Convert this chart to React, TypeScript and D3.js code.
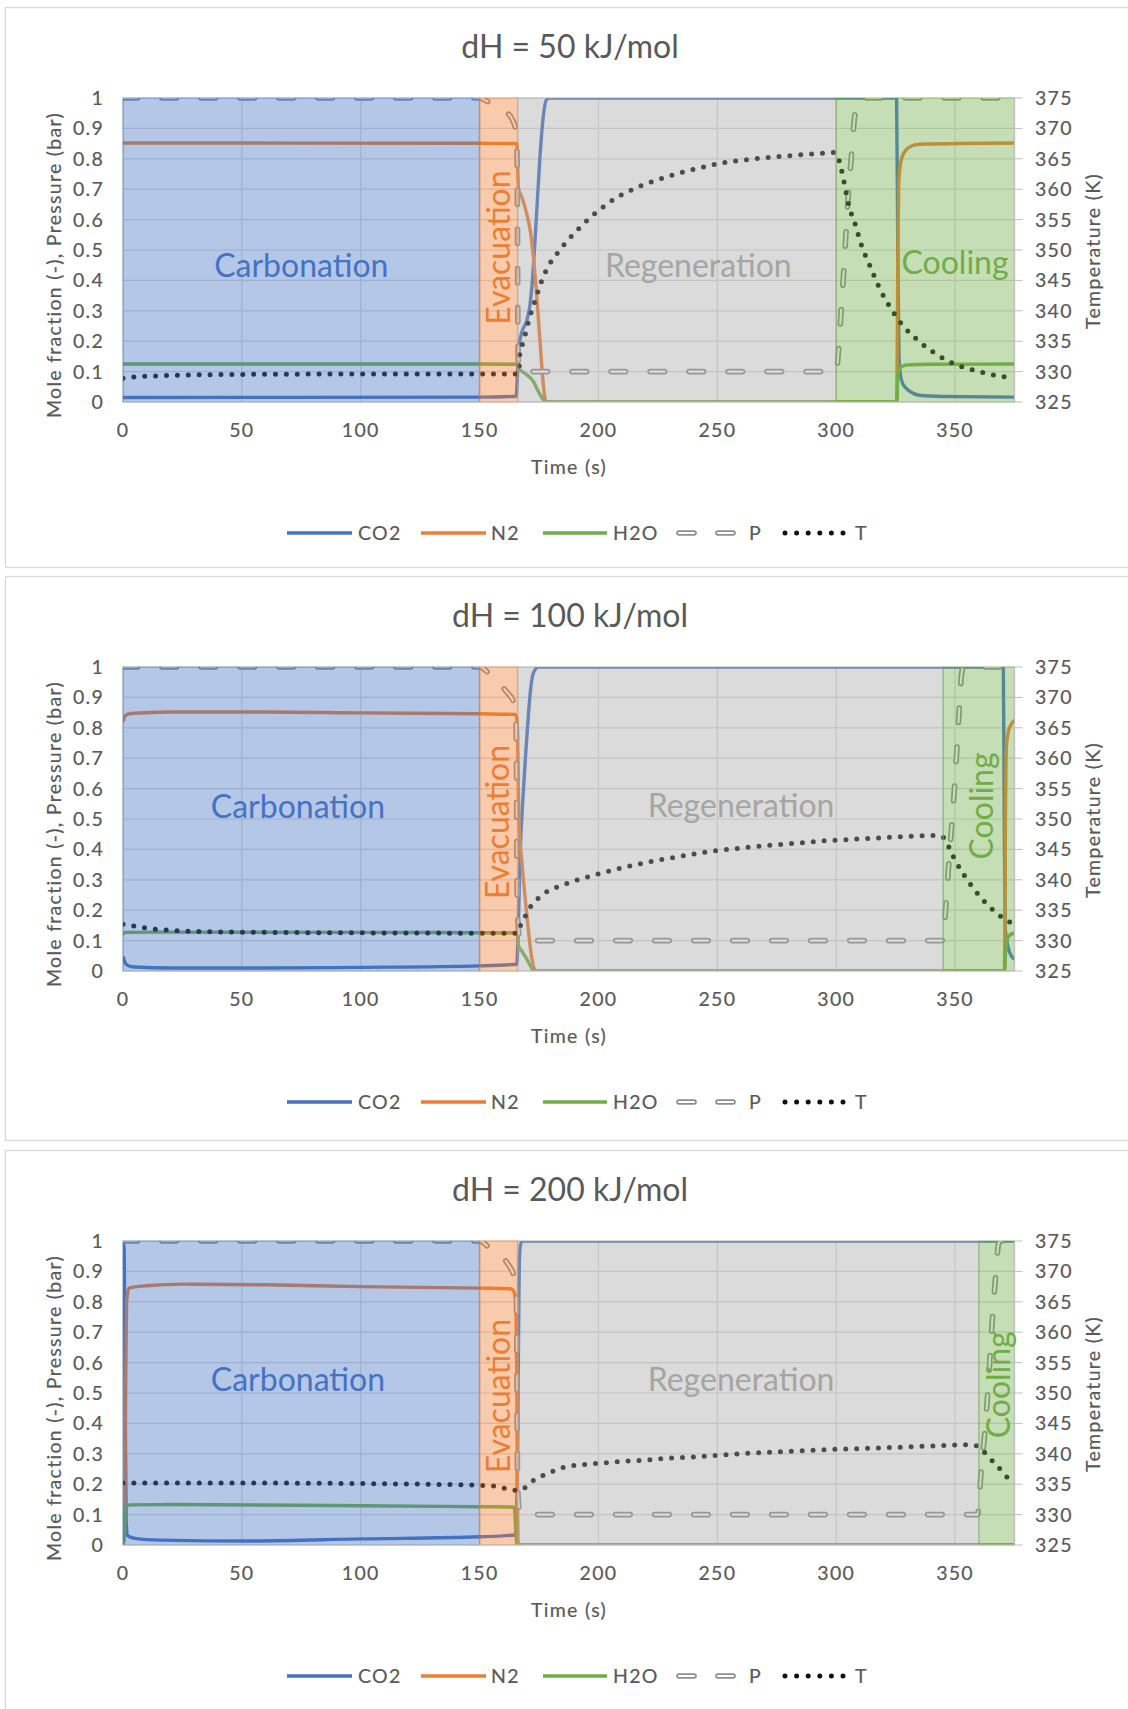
import React from "react";
import * as d3 from "d3";

type Pt = [number, number];

// ---- axis ticks and labels ----
const timeTicks = [0, 50, 100, 150, 200, 250, 300, 350];
const fractionTicks = [0, 0.1, 0.2, 0.3, 0.4, 0.5, 0.6, 0.7, 0.8, 0.9, 1];
const tempTicks = [325, 330, 335, 340, 345, 350, 355, 360, 365, 370, 375];
const chartTitles = ["dH = 50 kJ/mol", "dH = 100 kJ/mol", "dH = 200 kJ/mol"];
const phaseNames = ["Carbonation", "Evacuation", "Regeneration", "Cooling"];
const seriesNames = ["CO2", "N2", "H2O", "P", "T"];

// phase boundaries (s)
const phaseBounds50 = [0, 150, 166, 300, 375];
const phaseBounds100 = [0, 150, 166, 345, 375];
const phaseBounds200 = [0, 150, 166, 360, 375];

// ---- dH = 50 kJ/mol ----
const co2_50: Pt[] = [[0,0.015],[150,0.016],[165.4,0.019],[166,0.1],[166.7,0.19],[168,0.235],[169.8,0.267],[171.2,0.32],[172.3,0.41],[173.3,0.53],[174.3,0.664],[175.4,0.807],[176.8,0.94],[178.2,0.995],[179.6,1],[325.4,1],[325.9,0.5],[326.4,0.15],[327,0.09],[328,0.06],[331,0.035],[335,0.022],[345,0.018],[375,0.016]];
const n2_50: Pt[] = [[0,0.852],[150,0.851],[165.8,0.85],[166.1,0.76],[166.4,0.7],[167.7,0.675],[169.8,0.62],[171.5,0.554],[172.9,0.454],[174.3,0.322],[175.7,0.167],[177.1,0.035],[178,0],[325.5,0],[325.9,0.45],[326.3,0.72],[327.2,0.79],[328.5,0.82],[331,0.84],[335,0.848],[375,0.852]];
const h2o_50: Pt[] = [[0,0.125],[150,0.125],[166,0.124],[166.4,0.112],[168,0.1],[169.8,0.09],[172.6,0.068],[174.7,0.035],[176.8,0.008],[178.2,0],[325.5,0],[325.9,0.08],[326.4,0.105],[327.5,0.117],[330,0.122],[340,0.124],[375,0.125]];
const p_50: Pt[] = [[0,1],[150,1],[153,0.99],[157,0.975],[161,0.955],[164,0.925],[165.3,0.89],[165.8,0.8],[166.2,0.15],[166.8,0.1],[300,0.1],[301,0.17],[302,0.29],[303,0.41],[304,0.54],[305,0.67],[306.3,0.8],[307.5,0.92],[309,0.99],[310,1],[375,1]];
const t_50: Pt[] = [[0,328.9],[4.5,329.1],[14,329.3],[37.6,329.5],[100,329.6],[165.5,329.6],[166.5,329.8],[166.9,332.8],[168.1,334.6],[169.4,336.4],[170.5,338.2],[171.9,340],[173.3,341.6],[174.7,343.3],[176.2,345],[178.2,346.8],[180.6,348.4],[183.4,349.8],[186.4,351.3],[189.5,352.6],[192.7,353.9],[196.2,355.2],[199.7,356.4],[203.5,357.5],[207.7,358.7],[211.6,359.4],[215.7,360.2],[224.6,361.5],[233.5,362.6],[242.5,363.5],[251.6,364.3],[266,365],[280,365.5],[294,365.9],[299,366.05],[301,365],[303.2,361.4],[305,357.8],[308,354.2],[310.6,350.8],[314.2,347.4],[318,343.9],[322.5,340.7],[327.8,337.7],[334.5,335.1],[342,332.9],[350,331.2],[359,330.1],[368.3,329.3],[375,328.9]];

// ---- dH = 100 kJ/mol ----
const co2_100: Pt[] = [[0,0.048],[0.7,0.03],[2,0.018],[5,0.013],[20,0.01],[60,0.01],[100,0.012],[150,0.017],[165.6,0.022],[166.3,0.15],[167,0.37],[168.4,0.59],[169.6,0.74],[170.6,0.85],[171.5,0.93],[172.6,0.98],[174.8,1],[370.3,1],[370.7,0.5],[371.1,0.14],[372,0.09],[373,0.06],[375,0.038]];
const n2_100: Pt[] = [[0,0.82],[0.7,0.838],[3,0.847],[20,0.852],[60,0.852],[100,0.849],[150,0.846],[164.8,0.844],[165.6,0.835],[166,0.78],[166.3,0.6],[166.7,0.47],[167.7,0.367],[169.8,0.19],[172,0.04],[173.7,0],[370.8,0],[371.2,0.5],[371.6,0.74],[372.5,0.79],[373.5,0.81],[375,0.826]];
const h2o_100: Pt[] = [[0,0.12],[1,0.127],[20,0.128],[100,0.127],[150,0.126],[166,0.125],[166.3,0.085],[168,0.063],[169.8,0.04],[171.5,0.015],[172.8,0],[370.8,0],[371.3,0.07],[371.8,0.1],[373,0.118],[375,0.125]];
const p_100: Pt[] = [[0,1],[150,1],[155,0.97],[160.7,0.925],[165,0.87],[165.4,0.8],[165.8,0.25],[166.3,0.14],[167,0.1],[345,0.1],[346.2,0.225],[347.3,0.345],[348.5,0.47],[349.7,0.597],[350.8,0.733],[351.8,0.864],[352.7,0.975],[353.5,1],[375,1]];
const t_100: Pt[] = [[0,332.7],[4.6,332.4],[9,332.1],[19,331.7],[33,331.5],[61.7,331.35],[120,331.25],[166,331.2],[167.3,332.6],[169.5,334.2],[171.6,335.7],[175.1,337.1],[178.9,338.2],[183.3,338.9],[187.6,339.5],[192.1,340.1],[196.6,340.6],[201.2,341.1],[210.3,342],[219.6,342.8],[229,343.5],[238.2,344.1],[247.5,344.7],[257,345.1],[266.5,345.5],[276,345.8],[285.4,346.1],[294.8,346.4],[304.2,346.6],[313.7,346.8],[323,347],[332.6,347.2],[342,347.3],[345.7,346.8],[347.7,345.1],[349.7,343.5],[352.1,341.8],[354.6,340.3],[357.3,338.8],[360.4,337.3],[363.4,336],[367,334.7],[370.6,333.6],[374.7,332.7]];

// ---- dH = 200 kJ/mol ----
const co2_200: Pt[] = [[0,1],[0.5,0.97],[0.9,0.5],[1.3,0.08],[2,0.03],[5,0.022],[16,0.016],[53,0.013],[100,0.02],[150,0.027],[164.8,0.033],[165.4,0.06],[166,0.3],[166.4,0.7],[166.8,0.95],[167.5,0.995],[168.5,1],[375,1]];
const n2_200: Pt[] = [[0,0],[0.7,0.05],[1.1,0.5],[1.5,0.8],[2.5,0.845],[10,0.853],[25,0.858],[60,0.856],[100,0.85],[150,0.845],[163,0.843],[164.3,0.835],[165.3,0.8],[165.7,0.5],[166,0.1],[166.3,0],[375,0]];
const h2o_200: Pt[] = [[0,0],[0.6,0.03],[0.9,0.1],[1.5,0.128],[3,0.132],[20,0.133],[100,0.129],[150,0.126],[164.3,0.125],[164.8,0.11],[165.2,0.05],[165.6,0.005],[166,0],[375,0]];
const p_200: Pt[] = [[0,1],[150,1],[155,0.97],[161.4,0.93],[165,0.87],[165.5,0.8],[166,0.2],[166.7,0.115],[167.5,0.1],[359.5,0.1],[361,0.25],[362.5,0.37],[364,0.53],[365.5,0.72],[367,0.88],[368.3,0.99],[369,1],[375,1]];
const t_200: Pt[] = [[0,335.2],[50,335.2],[100,335.1],[141.8,334.9],[151.3,334.8],[156.2,334.7],[161,334.3],[165,334],[167.4,334],[171,335.2],[175,336.1],[179.4,336.9],[183.7,337.6],[188.3,338],[193,338.2],[202.3,338.5],[211.7,338.8],[221,339],[230.5,339.3],[240.2,339.5],[249.5,339.75],[259,340],[268.4,340.2],[277.9,340.35],[287.4,340.55],[296.8,340.7],[306.3,340.8],[315.7,340.95],[325.1,341.05],[334.6,341.2],[344,341.35],[353.6,341.5],[358.4,341.4],[361.4,340.6],[364.5,339.3],[368,337.9],[371,336.5],[374.7,335.3]];

// ---- layout ----
const W = 1128;
const H = 1709;
const FONT = "Lato, 'Open Sans', 'DejaVu Sans', sans-serif";
const TEXT = "#595959";
const GRID = "#D9D9D9";
const AXIS = "#BFBFBF";
const PLOT_L = 123;
const PLOT_R = 1014.5;
const PLOT_OFF = 91;
const PLOT_H = 304;
const PANEL_TOPS = [7, 576, 1150];
const PANEL_HS = [560, 564, 566];
const SMALL = 19.5;
const LS = "1.3px";

const seriesColor: Record<string, string> = {
  CO2: "#4472C4",
  N2: "#ED7D31",
  H2O: "#70AD47",
  P: "#8E8E8E",
  T: "#111111",
};
const phaseColor = ["#4472C4", "#ED7D31", "#A5A5A5", "#70AD47"];

// label anchors in data units: [time, fraction, vertical?]
const phaseLabelAnchors: [number, number, boolean][][] = [
  [[75, 0.45, false], [162.8, 0.508, true], [242, 0.45, false], [350, 0.46, false]],
  [[73.6, 0.54, false], [162.4, 0.49, true], [260, 0.544, false], [366, 0.543, true]],
  [[73.6, 0.543, false], [162.6, 0.49, true], [260, 0.546, false], [373, 0.527, true]],
];

const panels = [
  { title: chartTitles[0], bounds: phaseBounds50, co2: co2_50, n2: n2_50, h2o: h2o_50, p: p_50, t: t_50 },
  { title: chartTitles[1], bounds: phaseBounds100, co2: co2_100, n2: n2_100, h2o: h2o_100, p: p_100, t: t_100 },
  { title: chartTitles[2], bounds: phaseBounds200, co2: co2_200, n2: n2_200, h2o: h2o_200, p: p_200, t: t_200 },
];

const P_DASH = "14.5 24.5";
const T_DASH = "0 10.9";
const LINE_W = 3.4;

function Panel({ idx }: { idx: number }) {
  const cfg = panels[idx];
  const top = PANEL_TOPS[idx];
  const pTop = top + PLOT_OFF;
  const pBot = pTop + PLOT_H;

  const x = d3.scaleLinear().domain([0, 375]).range([PLOT_L, PLOT_R]);
  const y = d3.scaleLinear().domain([0, 1]).range([pBot, pTop]);
  const yT = d3.scaleLinear().domain([325, 375]).range([pBot, pTop]);

  const line = d3.line<Pt>().x((d) => x(d[0])).y((d) => y(d[1])).curve(d3.curveMonotoneX);
  const lineT = d3.line<Pt>().x((d) => x(d[0])).y((d) => yT(d[1])).curve(d3.curveMonotoneX);

  const clipId = `plot-clip-${idx}`;
  const pPath = line(cfg.p) || "";
  const legendY = top + 526;

  const smallText = {
    fontFamily: FONT,
    fontSize: SMALL,
    fill: TEXT,
    letterSpacing: LS,
    stroke: TEXT,
    strokeWidth: 0.2,
  } as React.CSSProperties;

  return (
    <g>
      <defs>
        <clipPath id={clipId}>
          <rect x={PLOT_L} y={pTop} width={PLOT_R - PLOT_L} height={PLOT_H} />
        </clipPath>
      </defs>

      {/* chart frame */}
      <rect x={5.5} y={top + 0.5} width={1140} height={PANEL_HS[idx]} fill="#fff" stroke="#D9D9D9" strokeWidth={1.3} />

      {/* gridlines */}
      {fractionTicks.slice(1).map((v) => (
        <line key={"h" + v} x1={PLOT_L} x2={PLOT_R} y1={y(v)} y2={y(v)} stroke={GRID} strokeWidth={1.2} />
      ))}
      {timeTicks.map((t) => (
        <line key={"v" + t} x1={x(t)} x2={x(t)} y1={pTop} y2={pBot} stroke={GRID} strokeWidth={1.2} />
      ))}

      {/* series */}
      <g clipPath={`url(#${clipId})`} fill="none">
        <path d={line(cfg.co2) || ""} stroke={seriesColor.CO2} strokeWidth={LINE_W} strokeLinejoin="round" />
        <path d={line(cfg.n2) || ""} stroke={seriesColor.N2} strokeWidth={LINE_W} strokeLinejoin="round" />
        <path d={line(cfg.h2o) || ""} stroke={seriesColor.H2O} strokeWidth={LINE_W} strokeLinejoin="round" />
        <path d={pPath} stroke={seriesColor.P} strokeWidth={5.6} strokeDasharray={P_DASH} strokeLinecap="round" />
        <path d={pPath} stroke="#fff" strokeWidth={2.2} strokeDasharray={P_DASH} strokeLinecap="round" />
        <path d={lineT(cfg.t) || ""} stroke={seriesColor.T} strokeWidth={5} strokeDasharray={T_DASH} strokeLinecap="round" />
      </g>

      {/* process phases, translucent over the curves */}
      {phaseNames.map((name, i) => (
        <rect
          key={name}
          x={x(cfg.bounds[i])}
          y={pTop}
          width={x(cfg.bounds[i + 1]) - x(cfg.bounds[i])}
          height={PLOT_H}
          fill={phaseColor[i]}
          fillOpacity={0.4}
          stroke={phaseColor[i]}
          strokeOpacity={0.4}
          strokeWidth={1.5}
        />
      ))}

      {/* axes */}
      <line x1={PLOT_L} x2={PLOT_R} y1={pBot} y2={pBot} stroke={AXIS} strokeWidth={1} />
      <line x1={PLOT_R} x2={PLOT_R} y1={pTop} y2={pBot} stroke={AXIS} strokeWidth={1} />
      {tempTicks.map((v) => (
        <line key={"rt" + v} x1={PLOT_R} x2={PLOT_R + 8} y1={yT(v)} y2={yT(v)} stroke={AXIS} strokeWidth={1} />
      ))}

      {/* phase labels */}
      {phaseNames.map((name, i) => {
        const [lt, lv, vertical] = phaseLabelAnchors[idx][i];
        const px = x(lt);
        const py = y(lv);
        const style = { fontFamily: FONT, fontSize: 32, fill: phaseColor[i] } as React.CSSProperties;
        return vertical ? (
          <text key={"lbl" + name} transform={`translate(${px},${py}) rotate(-90)`} textAnchor="middle" style={style}>
            {name}
          </text>
        ) : (
          <text key={"lbl" + name} x={px} y={py} dy="0.36em" textAnchor="middle" style={style}>
            {name}
          </text>
        );
      })}

      {/* title */}
      <text x={570} y={top + 51} textAnchor="middle" style={{ fontFamily: FONT, fontSize: 32, fill: TEXT }}>
        {cfg.title}
      </text>

      {/* tick labels */}
      {fractionTicks.map((v) => (
        <text key={"yl" + v} x={104} y={y(v)} dy="0.36em" textAnchor="end" style={smallText}>
          {String(v)}
        </text>
      ))}
      {tempTicks.map((v) => (
        <text key={"tl" + v} x={1035} y={yT(v)} dy="0.36em" textAnchor="start" style={smallText}>
          {String(v)}
        </text>
      ))}
      {timeTicks.map((t) => (
        <text key={"xl" + t} x={x(t)} y={top + 430} textAnchor="middle" style={smallText}>
          {String(t)}
        </text>
      ))}

      {/* axis titles */}
      <text x={569} y={top + 467} textAnchor="middle" style={smallText}>
        Time (s)
      </text>
      <text transform={`translate(54,${top + 258}) rotate(-90)`} dy="0.36em" textAnchor="middle" style={smallText}>
        Mole fraction (-), Pressure (bar)
      </text>
      <text transform={`translate(1093,${top + 244}) rotate(-90)`} dy="0.36em" textAnchor="middle" style={smallText}>
        Temperature (K)
      </text>

      {/* legend */}
      <g>
        <line x1={287} x2={352} y1={legendY} y2={legendY} stroke={seriesColor.CO2} strokeWidth={3.6} />
        <text x={358} y={legendY} dy="0.36em" style={smallText}>{seriesNames[0]}</text>
        <line x1={421} x2={486} y1={legendY} y2={legendY} stroke={seriesColor.N2} strokeWidth={3.6} />
        <text x={491} y={legendY} dy="0.36em" style={smallText}>{seriesNames[1]}</text>
        <line x1={543} x2={607} y1={legendY} y2={legendY} stroke={seriesColor.H2O} strokeWidth={3.6} />
        <text x={613} y={legendY} dy="0.36em" style={smallText}>{seriesNames[2]}</text>
        {[679, 718].map((lx) => (
          <g key={"pl" + lx}>
            <line x1={lx} x2={lx + 15} y1={legendY} y2={legendY} stroke={seriesColor.P} strokeWidth={5.6} strokeLinecap="round" />
            <line x1={lx} x2={lx + 15} y1={legendY} y2={legendY} stroke="#fff" strokeWidth={2.2} strokeLinecap="round" />
          </g>
        ))}
        <text x={749} y={legendY} dy="0.36em" style={smallText}>{seriesNames[3]}</text>
        <line x1={785} x2={844} y1={legendY} y2={legendY} stroke={seriesColor.T} strokeWidth={5} strokeDasharray="0 11.6" strokeLinecap="round" />
        <text x={855} y={legendY} dy="0.36em" style={smallText}>{seriesNames[4]}</text>
      </g>
    </g>
  );
}

export default function App() {
  return (
    <svg
      width={W}
      height={H}
      viewBox={`0 0 ${W} ${H}`}
      style={{ position: "absolute", left: 0, top: 0, display: "block", background: "#fff" }}
    >
      {panels.map((_, i) => (
        <Panel key={i} idx={i} />
      ))}
    </svg>
  );
}
